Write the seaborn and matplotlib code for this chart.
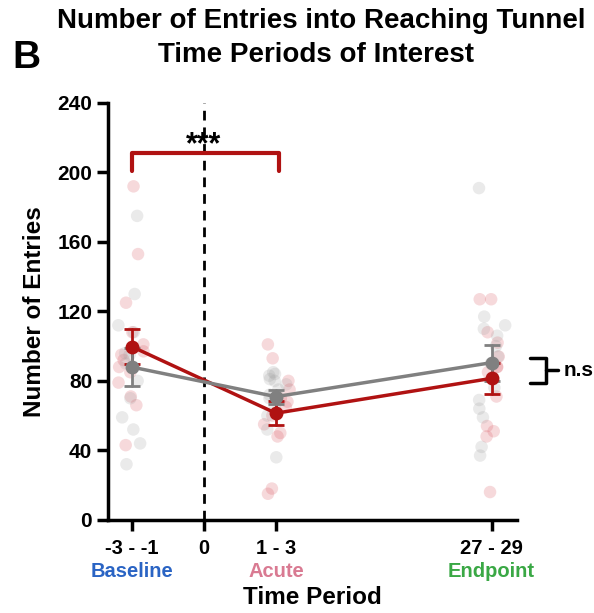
import numpy as np
import pandas as pd
import matplotlib
matplotlib.use("Agg")
import matplotlib.pyplot as plt
import seaborn as sns

# Time-period categories and where they sit on the x axis
period_labels = ["-3 - -1", "0", "1 - 3", "27 - 29"]
period_pos = [0, 1, 2, 5]
phase_names = ["Baseline", "Acute", "Endpoint"]
phase_pos = [0, 2, 5]
phase_colors = ["#2a64c4", "#d97a92", "#3aa845"]

# Per-animal entry counts, group drawn in red
red_baseline = [192, 153, 125, 108, 101, 97, 95, 92, 88, 85, 79, 71, 66, 43]
red_acute = [101, 93, 80, 75, 70, 68, 65, 60, 55, 50, 48, 18, 15]
red_endpoint = [127, 127, 108, 102, 94, 88, 88, 85, 71, 54, 51, 48, 16]

# Per-animal entry counts, group drawn in gray
gray_baseline = [175, 130, 112, 108, 96, 95, 90, 80, 70, 59, 52, 44, 32]
gray_acute = [85, 84, 83, 81, 80, 78, 75, 72, 70, 66, 60, 52, 36]
gray_endpoint = [191, 117, 112, 110, 106, 100, 94, 90, 76, 69, 64, 59, 42, 37]

y_ticks = [0, 40, 80, 120, 160, 200, 240]

RED = "#b01212"
GRAY = "#808080"


def to_frame(group, series):
    rows = []
    for pos, vals in zip(phase_pos, series):
        for v in vals:
            rows.append({"group": group, "pos": pos, "entries": v})
    return rows


rows = to_frame("red", [red_baseline, red_acute, red_endpoint]) + \
    to_frame("gray", [gray_baseline, gray_acute, gray_endpoint])
df = pd.DataFrame(rows)

sns.set_theme(style="ticks")
plt.rcParams["font.family"] = ["Liberation Sans", "DejaVu Sans"]
plt.rcParams["font.weight"] = "bold"
plt.rcParams["text.color"] = "black"
plt.rcParams["axes.labelcolor"] = "black"
plt.rcParams["xtick.color"] = "black"
plt.rcParams["ytick.color"] = "black"
plt.rcParams["xtick.labelcolor"] = "black"
plt.rcParams["ytick.labelcolor"] = "black"

fig = plt.figure(figsize=(5.94, 6.13), dpi=100)
ax = fig.add_axes([0.182, 0.152, 0.688, 0.680])

np.random.seed(3)
# individual animals, faint and jittered
sns.stripplot(data=df, x="pos", y="entries", hue="group", hue_order=["red", "gray"],
              palette={"red": "#d9545e", "gray": "#a0a0a0"}, native_scale=True,
              jitter=0.1, size=9, alpha=0.22, linewidth=0, legend=False, ax=ax, zorder=1)

# group means with SEM bars
sns.lineplot(data=df, x="pos", y="entries", hue="group", hue_order=["red", "gray"],
             palette={"red": RED, "gray": GRAY}, errorbar="se", err_style="bars",
             marker="o", markersize=10, markeredgewidth=0, linewidth=2.5,
             err_kws={"capsize": 6, "elinewidth": 2, "capthick": 2},
             legend=False, ax=ax, zorder=3)

# injury day marker
ax.axvline(1, color="black", ls=(0, (3.5, 2.5)), lw=2, zorder=2)

ax.set_xlim(-0.333, 5.35)
ax.set_ylim(0, 240)
ax.set_yticks(y_ticks)
ax.set_yticklabels([str(t) for t in y_ticks], fontsize=15, fontweight="bold")
ax.set_xticks(period_pos)
ax.set_xticklabels(period_labels, fontsize=14.5, fontweight="bold")
ax.tick_params(axis="both", width=2.5, length=8, color="black", labelcolor="black")
ax.tick_params(axis="x", pad=6)
for s in ["left", "bottom"]:
    ax.spines[s].set_linewidth(2.5)
    ax.spines[s].set_color("black")
sns.despine(ax=ax)

ax.set_ylabel("Number of Entries", fontsize=17.5, fontweight="bold", labelpad=8,
              color="black")
ax.set_xlabel("Time Period", fontsize=17.5, fontweight="bold", labelpad=20,
              color="black")

# phase names below the tick labels
for name, pos, col in zip(phase_names, phase_pos, phase_colors):
    ax.annotate(name, xy=(pos, 0), xycoords=("data", "axes fraction"),
                xytext=(0, -37), textcoords="offset points", ha="center", va="center",
                fontsize=14.5, fontweight="bold", color=col, annotation_clip=False)

# significance bracket baseline vs acute
ax.plot([0, 0, 2.05, 2.05], [201, 211, 211, 201], color=RED, lw=3, clip_on=False, zorder=4)
ax.text(1, 211, "***", ha="center", va="baseline", fontsize=22, fontweight="bold",
        color="black", zorder=5)

# non-significant bracket at endpoint
ax.plot([5.54, 5.76, 5.76, 5.54], [93, 93, 79, 79], color="black", lw=2.5, clip_on=False)
ax.plot([5.76, 5.92], [86, 86], color="black", lw=2.5, clip_on=False)
ax.text(6.0, 86, "n.s", ha="left", va="center", fontsize=15, fontweight="bold",
        color="black", clip_on=False)

fig.text(0.541, 1 - 28 / 613, "Number of Entries into Reaching Tunnel",
         ha="center", va="baseline", fontsize=20, fontweight="bold", color="black")
fig.text(0.532, 1 - 62 / 613, "Time Periods of Interest",
         ha="center", va="baseline", fontsize=20, fontweight="bold", color="black")
fig.text(0.02, 0.905, "B", ha="left", va="center", fontsize=28, fontweight="bold",
         color="black")

fig.savefig("out.png", dpi=100)
